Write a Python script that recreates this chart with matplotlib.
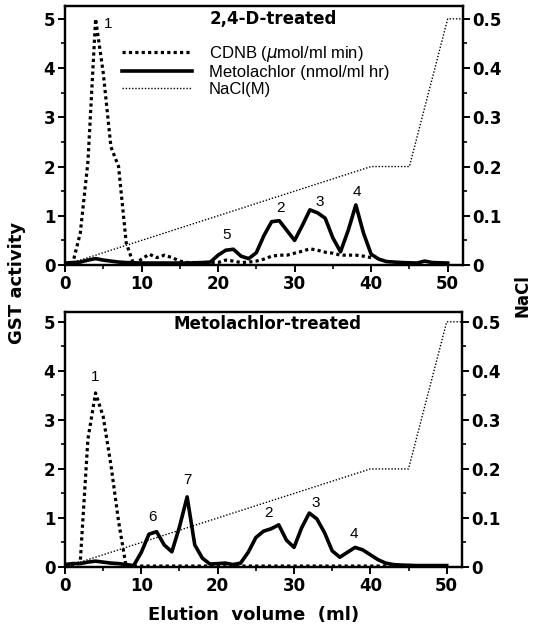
import matplotlib
matplotlib.use('Agg')
import matplotlib.pyplot as plt
from matplotlib.ticker import MultipleLocator

# elution volume (ml) and activities
# --- 2,4-D-treated ---
top_cdnb_x = [0, 1, 2, 3, 4, 5, 6, 7, 8, 9, 10, 11, 12, 13, 14, 15, 16, 18, 20, 21, 22,
              23, 24, 25, 26, 27, 28, 29, 30, 31, 32, 33, 34, 35, 36, 37, 38, 39, 40]
top_cdnb_y = [0, 0.03, 0.65, 2.1, 5.0, 3.9, 2.4, 2.0, 0.45, 0.0, 0.12, 0.22, 0.15, 0.2, 0.15,
              0.08, 0.05, 0.05, 0.05, 0.1, 0.08, 0.05, 0.06, 0.08, 0.12, 0.18, 0.2, 0.2, 0.24,
              0.28, 0.33, 0.3, 0.26, 0.24, 0.2, 0.2, 0.2, 0.18, 0.15]
top_met_x = [0, 1, 2, 3, 4, 5, 6, 7, 8, 10, 12, 14, 16, 18, 19, 20, 21, 22, 23, 24, 25, 26,
             27, 28, 29, 30, 31, 32, 33, 34, 35, 36, 37, 38, 39, 40, 41, 42, 44, 46, 47, 48, 50]
top_met_y = [0.04, 0.05, 0.06, 0.1, 0.13, 0.1, 0.08, 0.06, 0.05, 0.04, 0.04, 0.04, 0.04, 0.05,
             0.06, 0.2, 0.3, 0.32, 0.18, 0.13, 0.25, 0.6, 0.88, 0.9, 0.7, 0.5, 0.8, 1.12, 1.06,
             0.95, 0.55, 0.27, 0.7, 1.22, 0.65, 0.22, 0.12, 0.07, 0.05, 0.04, 0.08, 0.05, 0.04]

# --- Metolachlor-treated ---
bot_cdnb_x = [0, 1, 2, 3, 4, 5, 6, 7, 8, 10, 15, 20, 25, 30, 35, 40, 44]
bot_cdnb_y = [0, 0, 0.1, 2.6, 3.55, 3.07, 2.1, 0.95, 0.02, 0.02, 0.02, 0.02, 0.02, 0.02,
              0.02, 0.02, 0.02]
bot_met_x = [0, 1, 2, 3, 4, 5, 6, 7, 8, 9, 10, 11, 12, 13, 14, 15, 16, 17, 18, 19, 20, 21, 22,
             23, 24, 25, 26, 27, 28, 29, 30, 31, 32, 33, 34, 35, 36, 37, 38, 39, 40, 41, 42,
             43, 44, 46, 48, 50]
bot_met_y = [0.05, 0.07, 0.07, 0.1, 0.12, 0.1, 0.08, 0.07, 0.05, 0.03, 0.3, 0.67, 0.72, 0.45,
             0.31, 0.82, 1.43, 0.45, 0.18, 0.06, 0.07, 0.08, 0.05, 0.08, 0.3, 0.6, 0.73, 0.78,
             0.86, 0.55, 0.4, 0.8, 1.1, 0.98, 0.7, 0.33, 0.2, 0.3, 0.4, 0.35, 0.25, 0.15, 0.08,
             0.05, 0.04, 0.03, 0.03, 0.03]

# NaCl gradient (M), same for both runs
nacl_x = [0, 40, 45, 50, 52]
nacl_y = [0, 0.2, 0.2, 0.5, 0.5]

# peak numbers: (label, x, y)
top_peaks = [('1', 5.6, 4.9), ('5', 21.1, 0.6), ('2', 28.1, 1.16), ('3', 33.3, 1.28), ('4', 38.1, 1.48)]
bot_peaks = [('1', 3.9, 3.88), ('6', 11.5, 1.03), ('7', 16.1, 1.78), ('2', 26.7, 1.11),
             ('3', 32.8, 1.31), ('4', 37.8, 0.67)]

tick_font = {'family': 'DejaVu Sans', 'weight': 'bold', 'size': 12}
txt_font = 'Liberation Sans'

dots = (0, (1, 1))
fine_dots = (0, (1, 1.3))

fig = plt.figure(figsize=(5.34, 6.28), dpi=100)
ax_top = fig.add_axes([0.1217, 0.578, 0.7453, 0.4124])
ax_bot = fig.add_axes([0.1217, 0.0971, 0.7434, 0.4061])


def draw_panel(ax, cdnb_x, cdnb_y, met_x, met_y, peaks, title, ytop, title_pos):
    l1, = ax.plot(cdnb_x, cdnb_y, color='black', lw=2.3, linestyle=dots,
                  label='CDNB ($\\mu$mol/ml min)')
    l2, = ax.plot(met_x, met_y, color='black', lw=2.6, solid_joinstyle='round',
                  label='Metolachlor (nmol/ml hr)')
    ax.set_xlim(0, 52)
    ax.set_ylim(0, ytop)
    ax.xaxis.set_major_locator(MultipleLocator(10))
    ax.xaxis.set_minor_locator(MultipleLocator(5))
    ax.yaxis.set_major_locator(MultipleLocator(1))
    ax.yaxis.set_minor_locator(MultipleLocator(0.5))

    ax2 = ax.twinx()
    l3, = ax2.plot(nacl_x, nacl_y, color='black', lw=1.0, linestyle=fine_dots, label='NaCl(M)')
    ax2.set_ylim(0, ytop / 10)
    ax2.yaxis.set_major_locator(MultipleLocator(0.1))
    ax2.yaxis.set_minor_locator(MultipleLocator(0.05))
    ax2.set_yticks([0, 0.1, 0.2, 0.3, 0.4, 0.5])
    ax2.set_yticklabels(['0', '0.1', '0.2', '0.3', '0.4', '0.5'])

    for a in (ax, ax2):
        for s in a.spines.values():
            s.set_linewidth(1.6)
        a.tick_params(which='major', direction='out', length=5, width=1.4, pad=2)
        a.tick_params(which='minor', direction='out', length=3, width=1.2)
        for lab in a.get_xticklabels() + a.get_yticklabels():
            lab.set_fontproperties(tick_font)
    ax.tick_params(axis='y', which='both', right=False)
    ax2.tick_params(axis='y', which='both', left=False)

    for lab, px, py in peaks:
        ax.text(px, py, lab, fontsize=11, family=txt_font, ha='center', va='center')
    ax.text(title_pos[0], title_pos[1], title, transform=ax.transAxes, ha='center',
            va='center', fontsize=12, fontweight='bold', family='DejaVu Sans')
    return [l1, l2, l3]


handles = draw_panel(ax_top, top_cdnb_x, top_cdnb_y, top_met_x, top_met_y, top_peaks,
                     '2,4-D-treated', 5.26, (0.523, 0.95))
draw_panel(ax_bot, bot_cdnb_x, bot_cdnb_y, bot_met_x, bot_met_y, bot_peaks,
           'Metolachlor-treated', 5.2, (0.511, 0.953))

leg = ax_top.legend(handles=handles, loc='upper left', bbox_to_anchor=(0.122, 0.887),
                    frameon=False, borderpad=0, handlelength=4.2, handletextpad=1.0,
                    labelspacing=0.1, prop={'family': txt_font, 'size': 12})

fig.text(0.032, 0.549, 'GST activity', rotation=90, ha='center', va='center',
         fontsize=13, fontweight='bold', family='DejaVu Sans')
fig.text(0.979, 0.529, 'NaCl', rotation=90, ha='center', va='center',
         fontsize=12, fontweight='bold', family='DejaVu Sans')
fig.text(0.474, 0.021, 'Elution  volume  (ml)', ha='center', va='center',
         fontsize=13, fontweight='bold', family='DejaVu Sans')

plt.savefig('out.png', dpi=100)
